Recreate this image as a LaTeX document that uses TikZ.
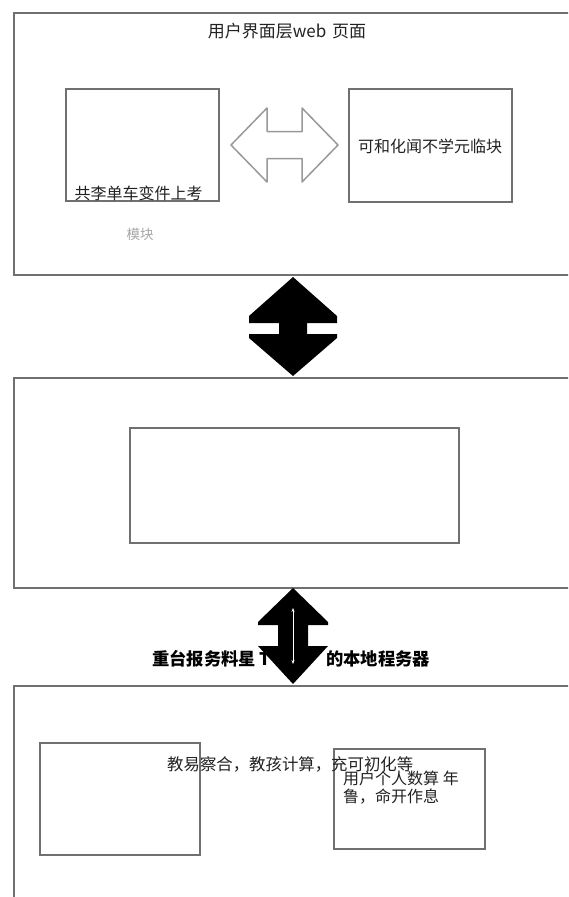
\documentclass[tikz,border=0pt]{standalone}
\usepackage{fontspec}
\setmainfont{Noto Sans CJK SC}
\usetikzlibrary{arrows.meta}
\definecolor{boxgray}{HTML}{707070}
\definecolor{txt}{HTML}{222222}
\begin{document}
\begin{tikzpicture}[x=1pt,y=-1pt,
  frame/.style={draw=boxgray, line width=2.2pt, inner sep=0pt, anchor=north west, fill=white},
  inbox/.style={draw=boxgray, line width=2.2pt, inner sep=0pt, anchor=north west},
  lbl/.style={text=txt, inner sep=0pt, font=\fontsize{16}{18}\selectfont},
  bold/.style={text=black, inner sep=0pt, font=\fontsize{17.3}{20}\selectfont\bfseries}]
\useasboundingbox (0,0) rectangle (568,897);
\clip (0,0) rectangle (568,897);
% layer frames
\node[frame, minimum width=570pt, minimum height=262pt] (L1) at (13,12) {};
\node[frame, minimum width=570pt, minimum height=210pt] (L2) at (13,377) {};
\node[frame, minimum width=570pt, minimum height=240pt] (L3) at (13,685) {};
% inner boxes
\node[inbox, minimum width=153.5pt, minimum height=112pt] (ui1) at (64.5,88) {};
\node[inbox, minimum width=163pt, minimum height=113pt] (ui2) at (348,88) {};
\node[inbox, minimum width=329pt, minimum height=115pt] (mid) at (129,427) {};
\node[inbox, minimum width=160pt, minimum height=112pt] (b1) at (39,742) {};
\node[inbox, minimum width=151pt, minimum height=100pt] (b2) at (333,748) {};
% texts
\node[lbl, font=\fontsize{17}{18}\selectfont] (title) at (287,31) {用户界面层web\hspace{6pt}页面};
\node[lbl] (t1) at (138.5,193) {共李单车变件上考};
\node[lbl, text=gray!70, font=\fontsize{13.5}{15}\selectfont] (t1b) at (140,234) {模块};
\node[lbl] (t2) at (430,146) {可和化闻不学元临块};
\node[lbl, anchor=west, font=\fontsize{16.4}{18}\selectfont] (t3) at (167,764) {教易察合，教孩计算，充可初化等};
\node[lbl, anchor=west, align=left] (t4) at (343,788) {用户个人数算 年\\鲁，命开作息};
\node[bold, anchor=west] (m1) at (152,659) {重台报务料星 T};
\node[bold, anchor=west] (m2) at (326,659) {的本地程务器};
% hollow double arrow between ui1 and ui2
\coordinate (ha) at (284.5,145);
\draw[shift={(ha)}, draw=gray!80, line width=1.5pt, fill=white, line join=round]
  (-53.5,0) -- (-17.5,-37) -- (-17.5,-13.5) -- (17.5,-13.5) -- (17.5,-37) -- (53.5,0)
  -- (17.5,37) -- (17.5,13.5) -- (-17.5,13.5) -- (-17.5,37) -- cycle;
% black double arrow between L1 and L2
\coordinate (a1) at (293,326.5);
\fill[shift={(a1)}, black]
  (0,-49.5) -- (44,-10.5) -- (44,-3.5) -- (14,-3.5) -- (14,7.5) -- (44,7.5) -- (44,11.5)
  -- (0,49.5) -- (-44,11.5) -- (-44,7.5) -- (-14,7.5) -- (-14,-3.5) -- (-44,-3.5) -- (-44,-10.5) -- cycle;
% black double arrow between L2 and L3
\coordinate (a2) at (293,636);
\fill[shift={(a2)}, black]
  (0,-48) -- (35,-14) -- (35,-11) -- (15,-11) -- (15,10) -- (35,10)
  -- (0,48) -- (-35,10) -- (-15,10) -- (-15,-11) -- (-35,-11) -- (-35,-14) -- cycle;
\coordinate (w1) at (293,608);
\coordinate (w2) at (293,664);
\draw[white, line width=0.9pt, {Stealth[length=4pt,width=3pt]}-{Stealth[length=4pt,width=3pt]}] (w1) -- (w2);
\end{tikzpicture}
\end{document}
